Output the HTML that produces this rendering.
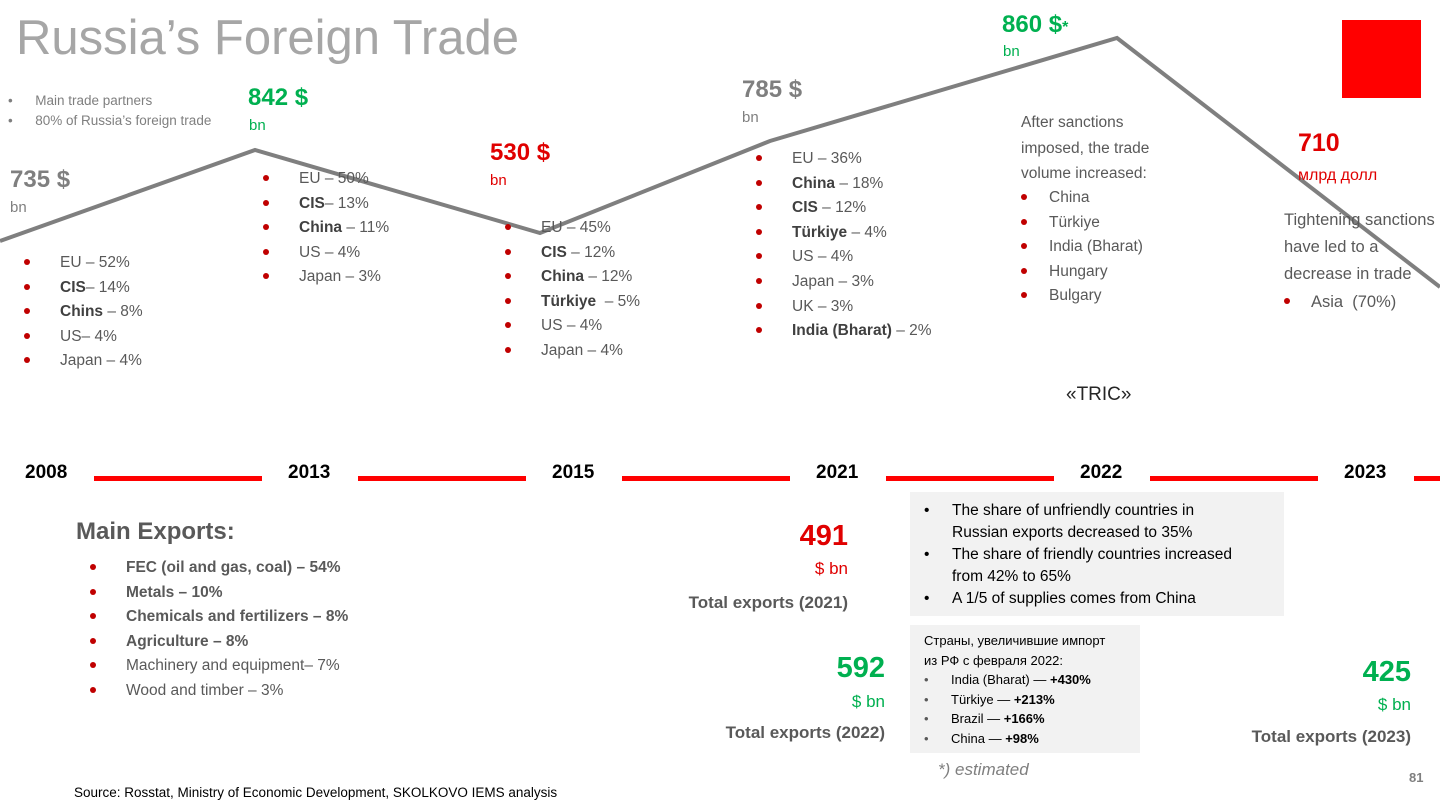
<!DOCTYPE html>
<html><head><meta charset="utf-8"><style>
body{margin:0;width:1440px;height:810px;background:#fff;position:relative;overflow:hidden;font-family:"Liberation Sans","Noto Sans CJK SC",sans-serif;color:#595959}
.a{position:absolute;white-space:nowrap}
.l{position:absolute;font-size:15.5px;line-height:24.6px;color:#595959;margin:0;padding:0;list-style:none}
.l li{position:relative;padding-left:35px}
.l li:before{content:"";position:absolute;left:-1px;top:8px;width:6px;height:6px;border-radius:50%;background:#c00000}
b{color:#404040}
.g{color:#00b050}.r{color:#e00000}
.yr{position:absolute;top:462px;font-size:19px;font-weight:bold;color:#000}
.bar{position:absolute;top:476px;height:5px;background:#f00}
</style></head><body>
<svg class="a" style="left:0;top:0" width="1440" height="810"><polyline points="0,241 255,150 540,233 770,141 1117,38 1440,287" fill="none" stroke="#7f7f7f" stroke-width="4"/></svg>
<div class="a" style="left:16px;top:10px;font-size:49px;color:#a6a6a6">Russia’s Foreign Trade</div>
<div class="a" style="left:1342px;top:20px;width:79px;height:78px;background:#f00"></div>
<div class="a" style="left:8px;top:91px;font-size:13.5px;line-height:20px;color:#7f7f7f">•&nbsp;&nbsp;&nbsp;&nbsp;&nbsp;&nbsp;Main trade partners<br>•&nbsp;&nbsp;&nbsp;&nbsp;&nbsp;&nbsp;80% of Russia’s foreign trade</div>
<div class="a" style="left:10px;top:166px;font-size:24px;font-weight:bold;color:#7f7f7f">735 $</div><div class="a" style="left:10px;top:199px;font-size:15px;color:#7f7f7f">bn</div>
<div class="a g" style="left:248px;top:84px;font-size:24px;font-weight:bold">842 $</div><div class="a g" style="left:249px;top:117px;font-size:15px">bn</div>
<div class="a r" style="left:490px;top:139px;font-size:24px;font-weight:bold">530 $</div><div class="a r" style="left:490px;top:172px;font-size:15px">bn</div>
<div class="a" style="left:742px;top:76px;font-size:24px;font-weight:bold;color:#7f7f7f">785 $</div><div class="a" style="left:742px;top:109px;font-size:15px;color:#7f7f7f">bn</div>
<div class="a g" style="left:1002px;top:11px;font-size:24px;font-weight:bold">860 $<span style="font-size:16px">*</span></div><div class="a g" style="left:1003px;top:43px;font-size:15px">bn</div>
<div class="a r" style="left:1298px;top:129px;font-size:25px;font-weight:bold">710</div><div class="a r" style="left:1298px;top:167px;font-size:16px">млрд долл</div>
<ul class="l" style="left:25px;top:251px"><li>EU – 52%</li><li><b>CIS</b>– 14%</li><li><b>Chins</b> – 8%</li><li>US– 4%</li><li>Japan – 4%</li></ul>
<ul class="l" style="left:264px;top:167px"><li>EU – 50%</li><li><b>CIS</b>– 13%</li><li><b>China</b> – 11%</li><li>US – 4%</li><li>Japan – 3%</li></ul>
<ul class="l" style="left:506px;top:216px"><li>EU – 45%</li><li><b>CIS</b> – 12%</li><li><b>China</b> – 12%</li><li><b>Türkiye</b>&nbsp; – 5%</li><li>US – 4%</li><li>Japan – 4%</li></ul>
<ul class="l" style="left:757px;top:147px"><li>EU – 36%</li><li><b>China</b> – 18%</li><li><b>CIS</b> – 12%</li><li><b>Türkiye</b> – 4%</li><li>US – 4%</li><li>Japan – 3%</li><li>UK – 3%</li><li><b>India (Bharat)</b> – 2%</li></ul>
<div class="a" style="left:1021px;top:110px;font-size:15.5px;line-height:25.5px">After sanctions<br>imposed, the trade<br>volume increased:</div>
<ul class="l" style="left:1022px;top:186px;line-height:24.5px"><li style="padding-left:27px">China</li><li style="padding-left:27px">Türkiye</li><li style="padding-left:27px">India (Bharat)</li><li style="padding-left:27px">Hungary</li><li style="padding-left:27px">Bulgary</li></ul>
<div class="a" style="left:1284px;top:207px;font-size:16.5px;line-height:27px">Tightening sanctions<br>have led to a<br>decrease in trade</div>
<ul class="l" style="left:1285px;top:290px;font-size:16.5px"><li style="padding-left:26px">Asia&nbsp; (70%)</li></ul>
<div class="a" style="left:1066px;top:384px;font-size:19px;color:#262626">«TRIC»</div>
<div class="yr" style="left:25px">2008</div><div class="yr" style="left:288px">2013</div><div class="yr" style="left:552px">2015</div><div class="yr" style="left:816px">2021</div><div class="yr" style="left:1080px">2022</div><div class="yr" style="left:1344px">2023</div>
<div class="bar" style="left:94px;width:168px"></div><div class="bar" style="left:358px;width:168px"></div><div class="bar" style="left:622px;width:168px"></div><div class="bar" style="left:886px;width:168px"></div><div class="bar" style="left:1150px;width:168px"></div><div class="bar" style="left:1414px;width:30px"></div>
<div class="a" style="left:76px;top:518px;font-size:24px;font-weight:bold;color:#595959">Main Exports:</div>
<ul class="l" style="left:91px;top:556px"><li><b style="color:#595959">FEC (oil and gas, coal) – 54%</b></li><li><b style="color:#595959">Metals – 10%</b></li><li><b style="color:#595959">Chemicals and fertilizers – 8%</b></li><li><b style="color:#595959">Agriculture – 8%</b></li><li>Machinery and equipment– 7%</li><li>Wood and timber – 3%</li></ul>
<div class="a r" style="left:798px;top:520px;font-size:29px;font-weight:bold;width:50px;text-align:right">491</div>
<div class="a r" style="left:798px;top:559px;font-size:17px;width:50px;text-align:right">$ bn</div>
<div class="a" style="left:648px;top:593px;font-size:17px;font-weight:bold;width:200px;text-align:right">Total exports (2021)</div>
<div class="a g" style="left:785px;top:652px;font-size:29px;font-weight:bold;width:100px;text-align:right">592</div>
<div class="a g" style="left:785px;top:692px;font-size:17px;width:100px;text-align:right">$ bn</div>
<div class="a" style="left:685px;top:723px;font-size:17px;font-weight:bold;width:200px;text-align:right">Total exports (2022)</div>
<div class="a g" style="left:1311px;top:656px;font-size:29px;font-weight:bold;width:100px;text-align:right">425</div>
<div class="a g" style="left:1311px;top:695px;font-size:17px;width:100px;text-align:right">$ bn</div>
<div class="a" style="left:1211px;top:727px;font-size:17px;font-weight:bold;width:200px;text-align:right">Total exports (2023)</div>
<div class="a" style="left:910px;top:492px;width:374px;height:124px;background:#f2f2f2;font-size:15.5px;line-height:22px;color:#000;white-space:normal">
<div style="position:absolute;left:14px;top:8px">•</div><div style="position:absolute;left:42px;top:8px;width:300px">The share of unfriendly countries in Russian exports decreased to 35%</div>
<div style="position:absolute;left:14px;top:52px">•</div><div style="position:absolute;left:42px;top:52px;width:300px">The share of friendly countries increased from 42% to 65%</div>
<div style="position:absolute;left:14px;top:96px">•</div><div style="position:absolute;left:42px;top:96px;width:300px">A 1/5 of supplies comes from China</div></div>
<div class="a" style="left:910px;top:625px;width:230px;height:128px;background:#f2f2f2;font-size:13px;line-height:19.5px;color:#000">
<div style="position:absolute;left:14px;top:6px">Страны, увеличившие импорт<br>из РФ с февраля 2022:</div>
<div style="position:absolute;left:14px;top:45px;color:#595959">•<br>•<br>•<br>•</div>
<div style="position:absolute;left:41px;top:45px">India (Bharat) — <b style="color:#000">+430%</b><br>Türkiye — <b style="color:#000">+213%</b><br>Brazil — <b style="color:#000">+166%</b><br>China — <b style="color:#000">+98%</b></div></div>
<div class="a" style="left:938px;top:760px;font-size:17px;font-style:italic;color:#7f7f7f">*) estimated</div>
<div class="a" style="left:1409px;top:770px;font-size:13px;font-weight:bold;color:#7f7f7f">81</div>
<div class="a" style="left:74px;top:785px;font-size:13.5px;color:#000">Source: Rosstat, Ministry of Economic Development, SKOLKOVO IEMS analysis</div>
</body></html>
